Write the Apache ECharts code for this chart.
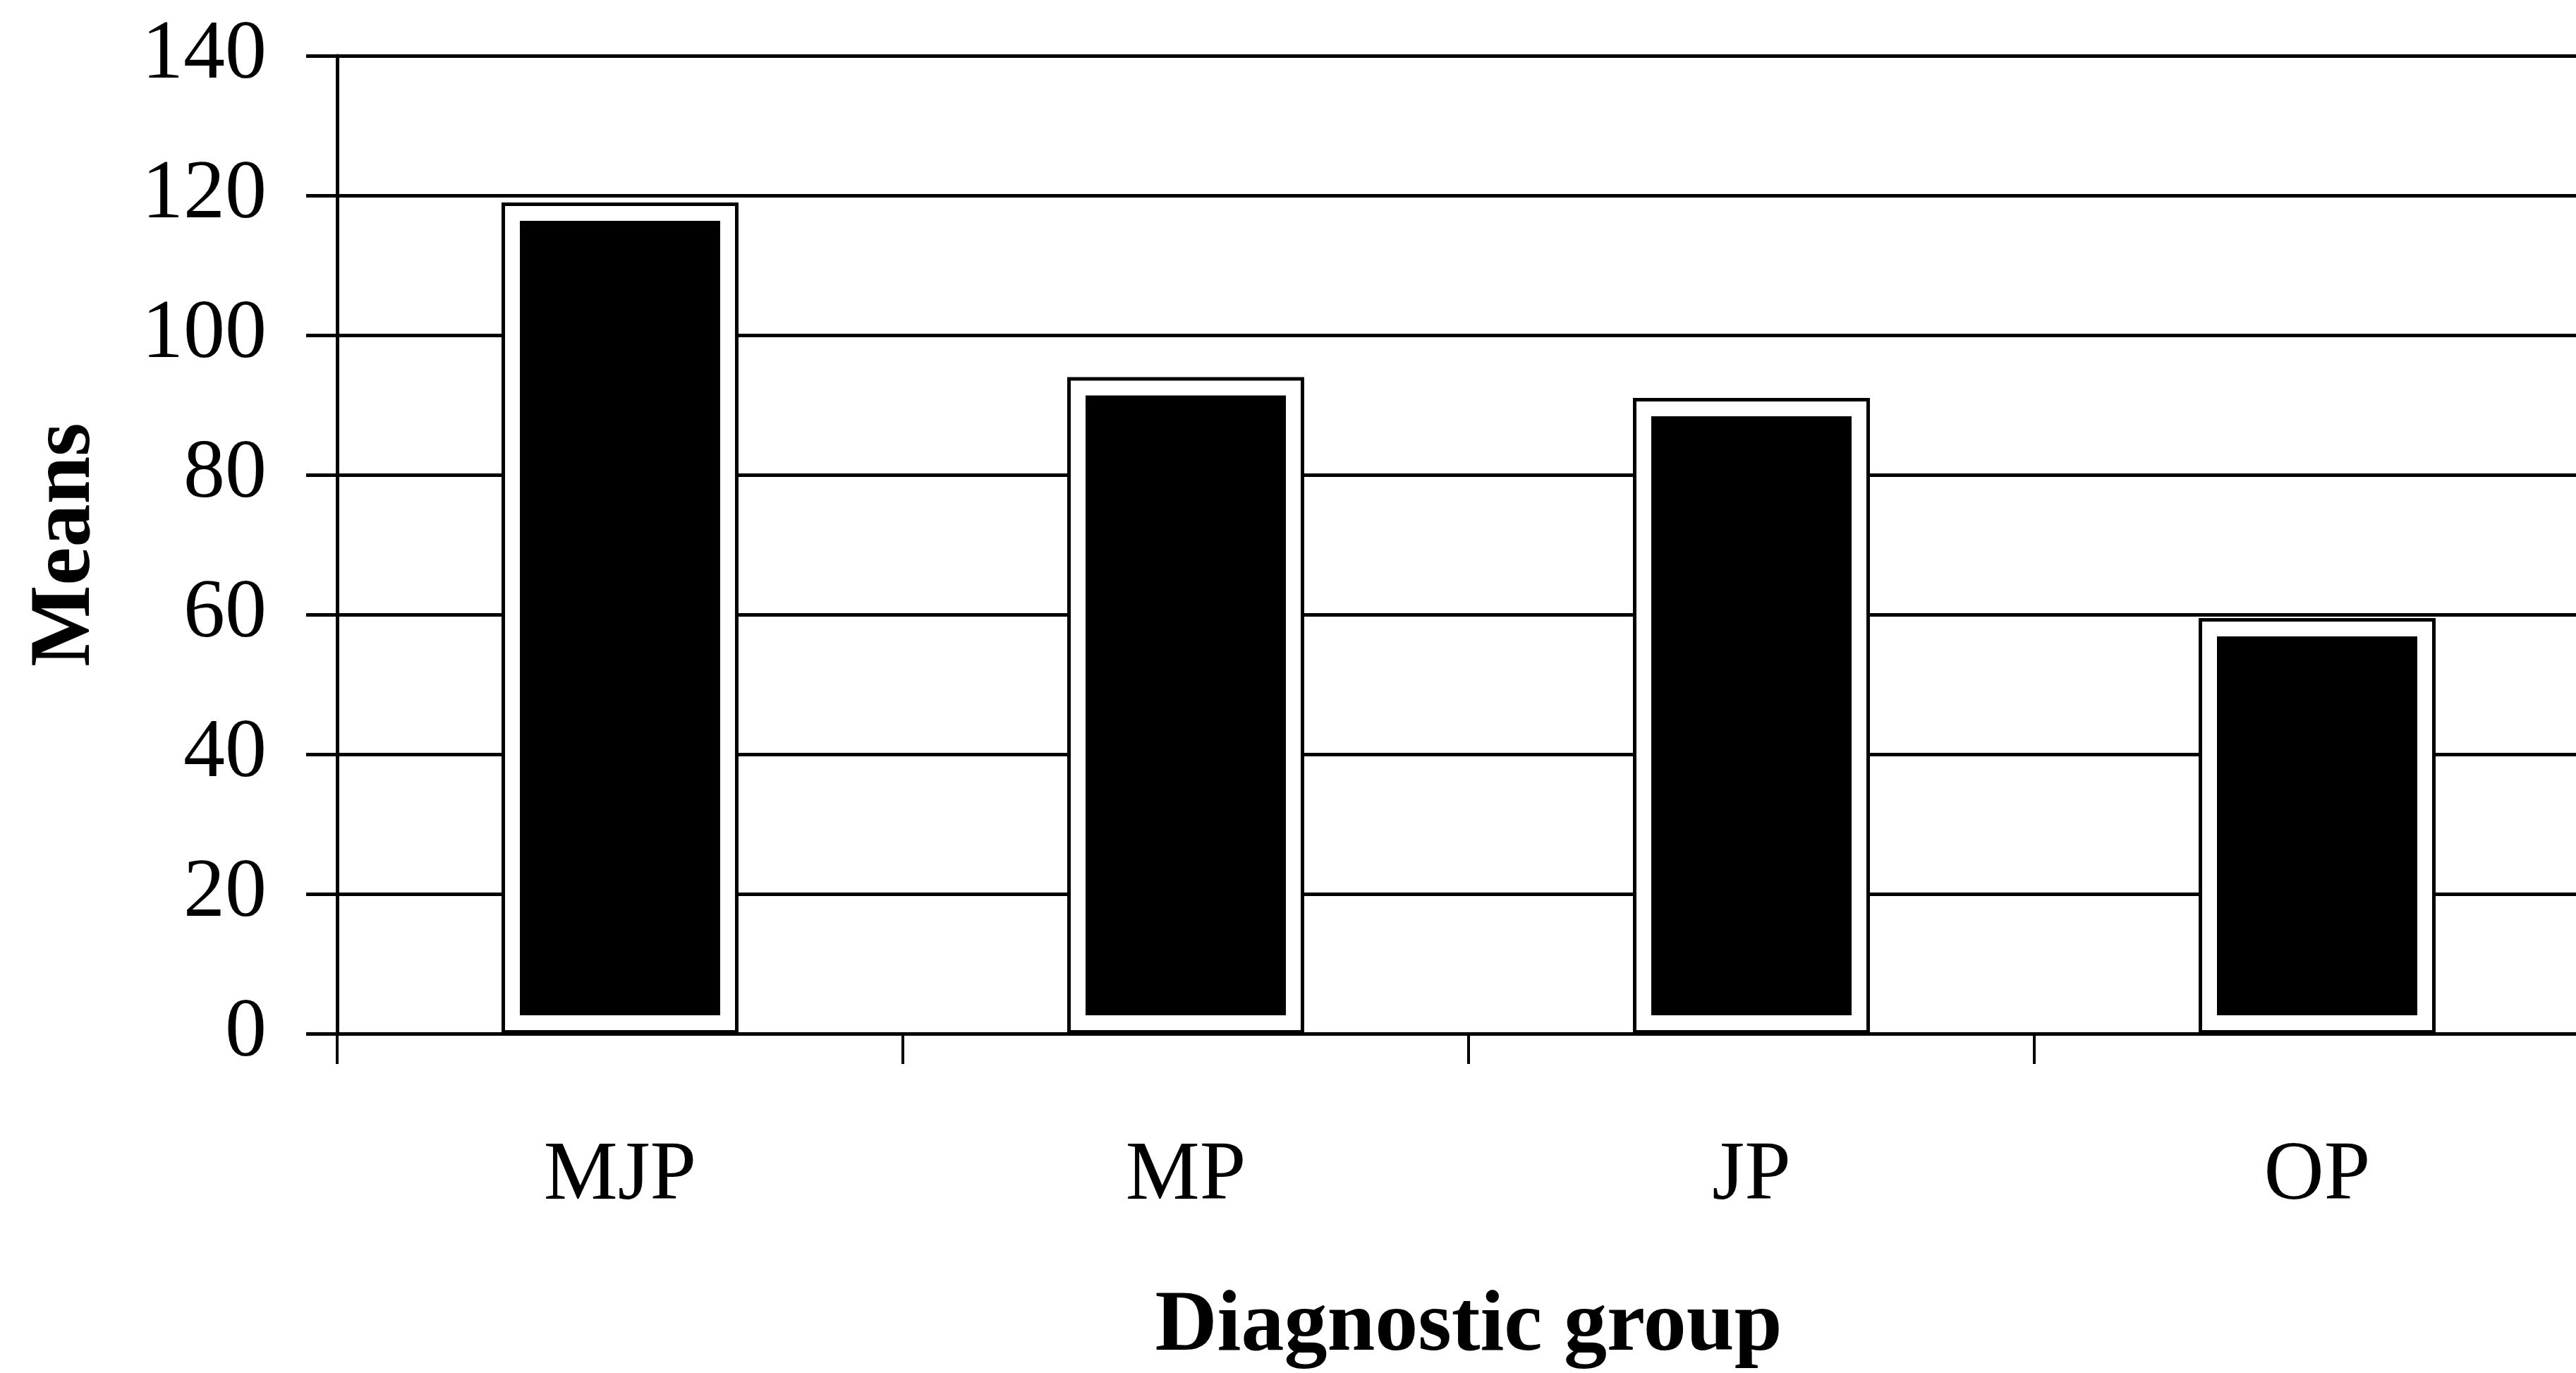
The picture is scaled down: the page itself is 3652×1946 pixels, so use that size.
<!DOCTYPE html>
<html>
<head>
<meta charset="utf-8">
<script src="https://cdn.jsdelivr.net/npm/echarts@6/dist/echarts.min.js"></script>
<style>
html,body{margin:0;padding:0;background:#fff;}
#chart{width:3652px;height:1946px;}
</style>
</head>
<body>
<div id="chart"></div>
<script>
const categories = ['MJP', 'MP', 'JP', 'OP'];
const means = [119, 94, 91, 59.5];
const yMin = 0;
const yMax = 140;
const yStep = 20;
const xTitle = 'Diagnostic group';
const yTitle = 'Means';

const serif = 'Liberation Serif';
const chart = echarts.init(document.getElementById('chart'), null, {renderer: 'canvas'});
chart.setOption({
  animation: false,
  backgroundColor: '#ffffff',
  grid: {left: 478, right: -34, top: 79, bottom: 481, outerBoundsMode: 'none'},
  xAxis: {
    type: 'category',
    data: categories,
    boundaryGap: true,
    name: xTitle,
    nameLocation: 'middle',
    nameGap: 355,
    nameTextStyle: {fontFamily: serif, fontWeight: 'bold', fontSize: 122, color: '#000'},
    axisLine: {show: true, lineStyle: {color: '#000', width: 5}},
    axisTick: {show: true, inside: false, length: 43, alignWithLabel: false, lineStyle: {color: '#000', width: 4}},
    axisLabel: {fontFamily: serif, fontSize: 118, color: '#000', margin: 144},
    splitLine: {show: false}
  },
  yAxis: {
    type: 'value',
    min: yMin,
    max: yMax,
    interval: yStep,
    name: yTitle,
    nameLocation: 'middle',
    nameGap: 323,
    nameTextStyle: {fontFamily: serif, fontWeight: 'bold', fontSize: 122, color: '#000'},
    axisLine: {show: true, lineStyle: {color: '#000', width: 5}},
    axisTick: {show: true, inside: false, length: 44, lineStyle: {color: '#000', width: 5}},
    axisLabel: {fontFamily: serif, fontSize: 118, color: '#000', margin: 100},
    splitLine: {show: true, lineStyle: {color: '#000', width: 5}}
  },
  series: [
    {
      name: 'Means fill',
      type: 'bar',
      data: means,
      barWidth: 336,
      barGap: '-100%',
      z: 2,
      itemStyle: {color: '#000000', borderColor: '#ffffff', borderWidth: 26}
    },
    {
      name: 'Means frame',
      type: 'bar',
      data: means,
      barWidth: 336,
      barGap: '-100%',
      z: 3,
      itemStyle: {color: 'rgba(0,0,0,0)', borderColor: '#000000', borderWidth: 5}
    }
  ]
});
</script>
</body>
</html>
